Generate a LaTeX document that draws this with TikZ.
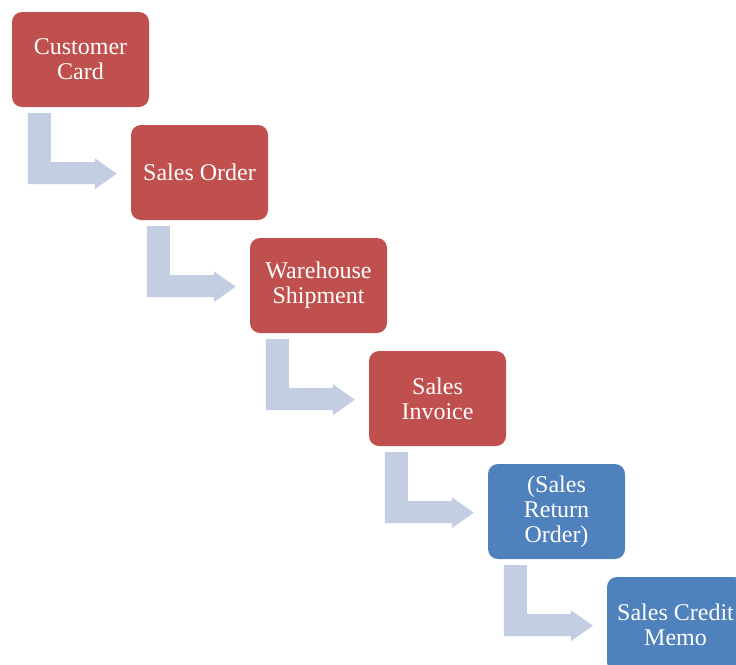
\documentclass[tikz,border=0pt]{standalone}
\usepackage{fontspec}
\setmainfont{Liberation Serif}
\usetikzlibrary{calc}
\definecolor{stepred}{HTML}{C0504D}
\definecolor{stepblue}{HTML}{4F81BD}
\definecolor{arrowfill}{HTML}{C4CEE3}
\tikzset{
  stage/.style={rectangle, rounded corners=10pt, minimum width=137pt, minimum height=95pt,
    inner sep=0pt, text=white, align=center,
    font=\fontsize{24}{25}\selectfont},
  redstage/.style={stage, fill=stepred},
  bluestage/.style={stage, fill=stepblue},
  bendfill/.style={fill=arrowfill, draw=none}
}
% bent process arrow from the lower left of box #1, its tip just short of box #2
\newcommand{\drawbendarrow}[2]{%
  \coordinate (#1-tip) at ($(#1.south west)+(105,66.5)$);
  \fill[bendfill] ($(#1.south west)+(16,6)$) -- ($(#1.south west)+(39,6)$)
    -- ($(#1.south west)+(39,55)$) -- ($(#1.south west)+(83,55)$)
    -- ($(#1.south west)+(83,51)$) -- (#1-tip)
    -- ($(#1.south west)+(83,82)$) -- ($(#1.south west)+(83,77)$)
    -- ($(#1.south west)+(16,77)$) -- cycle;}
\begin{document}
\begin{tikzpicture}[x=1pt,y=-1pt]
  \useasboundingbox (0,0) rectangle (736,664);
  \clip (0,0) rectangle (736,664);
  \fill[white] (0,0) rectangle (736,664);

  \node[redstage]  (card)     at (80.5,59.5)  {Customer\\Card};
  \node[redstage]  (order)    at (199.5,172.5) {Sales Order};
  \node[redstage]  (ship)     at (318.5,285.5) {Warehouse\\Shipment};
  \node[redstage]  (invoice)  at (437.5,398.5) {Sales\\Invoice};
  \node[bluestage] (return)   at (556.5,511.5) {(Sales\\Return\\Order)};
  \node[bluestage] (memo)     at (675.5,624.5) {Sales Credit\\Memo};

  \drawbendarrow{card}{order}
  \drawbendarrow{order}{ship}
  \drawbendarrow{ship}{invoice}
  \drawbendarrow{invoice}{return}
  \drawbendarrow{return}{memo}
\end{tikzpicture}
\end{document}
